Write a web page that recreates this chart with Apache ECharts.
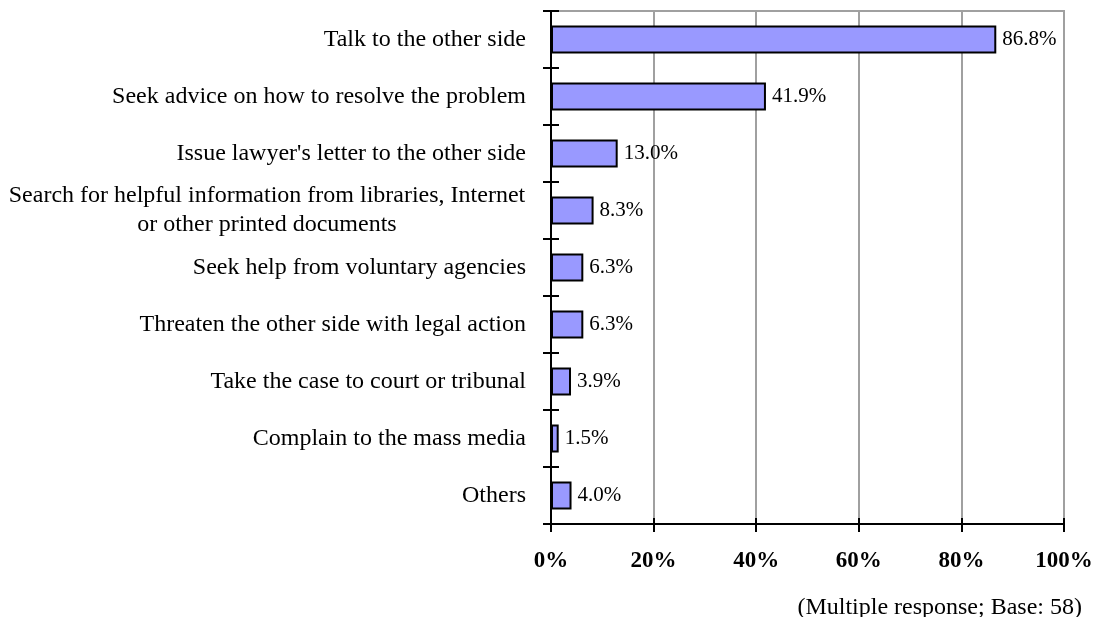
<!DOCTYPE html>
<html>
<head>
<meta charset="utf-8">
<script src="https://cdn.jsdelivr.net/npm/echarts@6/dist/echarts.min.js"></script>
<style>
html,body{margin:0;padding:0;background:#fff;}
#chart{width:1103px;height:617px;}
</style>
</head>
<body>
<div id="chart"></div>
<script>
const categories = [
  "Talk to the other side",
  "Seek advice on how to resolve the problem",
  "Issue lawyer's letter to the other side",
  "Search for helpful information from libraries, Internet\nor other printed documents",
  "Seek help from voluntary agencies",
  "Threaten the other side with legal action",
  "Take the case to court or tribunal",
  "Complain to the mass media",
  "Others"
];
const values = [86.8, 41.9, 13.0, 8.3, 6.3, 6.3, 3.9, 1.5, 4.0];
const xTicks = [0, 20, 40, 60, 80, 100];
const note = "(Multiple response; Base: 58)";

const FONT = "'Liberation Serif', 'Times New Roman', serif";
const chart = echarts.init(document.getElementById('chart'), null, {renderer: 'canvas'});

const option = {
  animation: false,
  backgroundColor: '#fff',
  grid: {
    left: 551, right: 39, top: 11, bottom: 93,
    show: true, borderColor: '#a0a0a0', borderWidth: 2, backgroundColor: 'transparent'
  },
  xAxis: [{
    type: 'value', min: xTicks[0], max: xTicks[xTicks.length - 1], interval: 20,
    axisLine: {show: true, onZero: false, lineStyle: {color: '#000', width: 2}},
    axisTick: {show: true, inside: false, length: 8, lineStyle: {color: '#000', width: 2}},
    splitLine: {show: true, lineStyle: {color: '#a0a0a0', width: 2}},
    axisLabel: {
      formatter: '{value}%', margin: 26, color: '#000',
      fontFamily: FONT, fontWeight: 'bold', fontSize: 23
    }
  }, {
    type: 'value', min: xTicks[0], max: xTicks[xTicks.length - 1], interval: 20, position: 'bottom',
    axisLine: {show: false},
    axisTick: {show: true, inside: true, length: 6, lineStyle: {color: '#000', width: 2}},
    splitLine: {show: false},
    axisLabel: {show: false}
  }],
  yAxis: [{
    type: 'category', data: categories, inverse: true,
    axisLine: {show: true, lineStyle: {color: '#000', width: 2}},
    axisTick: {show: true, inside: false, length: 8, lineStyle: {color: '#000', width: 2}},
    splitLine: {show: false},
    axisLabel: {
      margin: 25, color: '#000', fontFamily: FONT, fontSize: 24, lineHeight: 29,
      formatter: function (v) {
        if (v.indexOf('\n') >= 0) {
          return v.split('\n').map(function (s) { return '{c|' + s + '}'; }).join('\n');
        }
        return v;
      },
      rich: {
        c: {width: 518, align: 'center', fontFamily: FONT, fontSize: 24, lineHeight: 29, color: '#000'}
      }
    }
  }, {
    type: 'category', data: categories, inverse: true, position: 'left',
    axisLine: {show: false},
    axisTick: {show: true, inside: true, length: 8, lineStyle: {color: '#000', width: 2}},
    splitLine: {show: false},
    axisLabel: {show: false}
  }],
  series: [{
    type: 'bar',
    data: values,
    xAxisIndex: 0, yAxisIndex: 0,
    barWidth: 28,
    itemStyle: {color: '#9999ff', borderColor: '#000', borderWidth: 2},
    label: {
      show: true, position: 'right', distance: 6,
      formatter: function (p) { return p.value.toFixed(1) + '%'; },
      color: '#000', fontFamily: FONT, fontSize: 21
    }
  }],
  graphic: [{
    type: 'text', right: 21, top: 596,
    style: {text: note, fill: '#000', font: '24px ' + FONT, textAlign: 'right'}
  }]
};
chart.setOption(option);
</script>
</body>
</html>
